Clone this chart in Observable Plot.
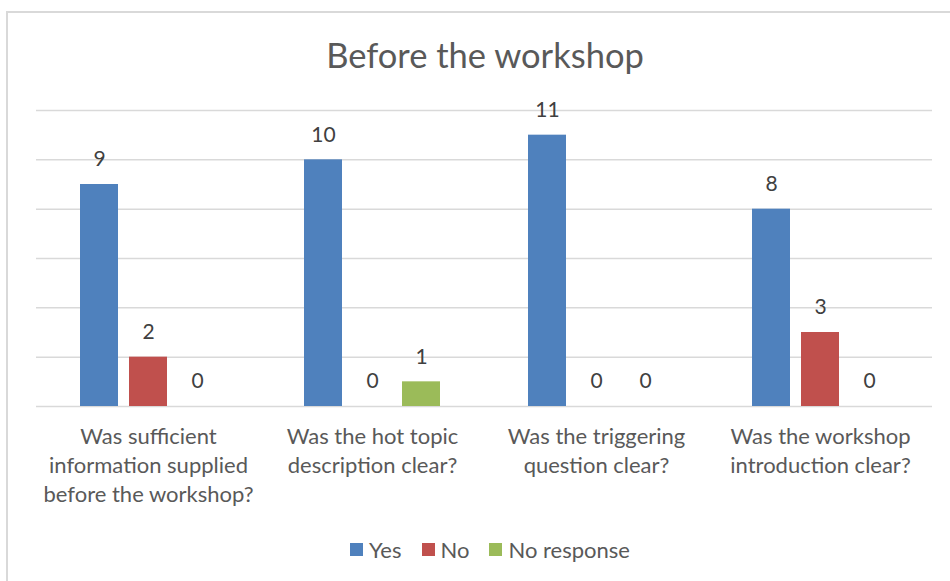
<!DOCTYPE html>
<html>
<head>
<meta charset="utf-8">
<script src="https://cdn.jsdelivr.net/npm/d3@7"></script>
<script src="https://cdn.jsdelivr.net/npm/@observablehq/plot@0.6"></script>
<style>
  html, body { margin: 0; padding: 0; background: #fff; }
  #wrap { position: relative; width: 950px; height: 581px; overflow: hidden; font-family: Lato, "Open Sans", sans-serif; }
  #frame { position: absolute; left: 6px; top: 11px; width: 1200px; height: 900px; border-left: 2px solid #d9d9d9; border-top: 2px solid #d9d9d9; }
  #title { position: absolute; left: 0; width: 970px; top: 38px; text-align: center; font-size: 34.5px; color: #595959; line-height: 1; }
  #plot { position: absolute; left: 0; top: 90px; }
  #legend { position: absolute; left: 0; width: 980px; top: 536px; display: flex; justify-content: center; align-items: center; font-size: 22px; color: #595959; }
  .item { display: flex; align-items: center; margin: 0 10px; }
  .sw { width: 13px; height: 13px; margin-right: 6px; }
</style>
</head>
<body>
<div id="wrap">
  <div id="frame"></div>
  <div id="title">Before the workshop</div>
  <div id="plot"></div>
  <div id="legend"></div>
</div>
<script>
const categories = [
  "Was sufficient information supplied before the workshop?",
  "Was the hot topic description clear?",
  "Was the triggering question clear?",
  "Was the workshop introduction clear?"
];
const tickLabels = [
  "Was sufficient\ninformation supplied\nbefore the workshop?",
  "Was the hot topic\ndescription clear?",
  "Was the triggering\nquestion clear?",
  "Was the workshop\nintroduction clear?"
];
const series = ["Yes", "No", "No response"];
const yesValues = [9, 10, 11, 8];
const noValues = [2, 0, 0, 3];
const noResponseValues = [0, 1, 0, 0];
const colors = ["#4F81BD", "#C0504D", "#9BBB59"];
const yTicks = [0, 2, 4, 6, 8, 10, 12];

const valuesBySeries = [yesValues, noValues, noResponseValues];
const data = [];
categories.forEach((c, i) => {
  series.forEach((s, j) => {
    data.push({category: c, series: s, value: valuesBySeries[j][i]});
  });
});

const chart = Plot.plot({
  width: 950,
  height: 420,
  marginLeft: 34,
  marginRight: 17,
  marginTop: 20,
  marginBottom: 104,
  style: {fontFamily: "Lato, 'Open Sans', sans-serif", background: "transparent"},
  fx: {domain: categories, padding: 0, label: null},
  x: {domain: series, paddingInner: 0.22, paddingOuter: 0.855, axis: null},
  y: {domain: [0, 12], axis: null},
  color: {domain: series, range: colors},
  marks: [
    Plot.ruleY(yTicks, {stroke: "#d9d9d9", strokeWidth: 1.5}),
    Plot.barY(data, {fx: "category", x: "series", y: "value", fill: "series"}),
    Plot.text(data, {fx: "category", x: "series", y: "value", text: d => String(d.value), dy: -25, fontSize: 21, fill: "#404040"}),
    Plot.axisFx({
      anchor: "bottom",
      tickSize: 0,
      tickPadding: 17,
      fontSize: 22,
      lineHeight: 1.32,
      fill: "#595959",
      label: null,
      tickFormat: d => tickLabels[categories.indexOf(d)]
    })
  ]
});
document.getElementById("plot").appendChild(chart);

const legend = document.getElementById("legend");
series.forEach((s, i) => {
  const item = document.createElement("div");
  item.className = "item";
  const sw = document.createElement("div");
  sw.className = "sw";
  sw.style.background = colors[i];
  const t = document.createElement("span");
  t.textContent = s;
  item.appendChild(sw);
  item.appendChild(t);
  legend.appendChild(item);
});
</script>
</body>
</html>
